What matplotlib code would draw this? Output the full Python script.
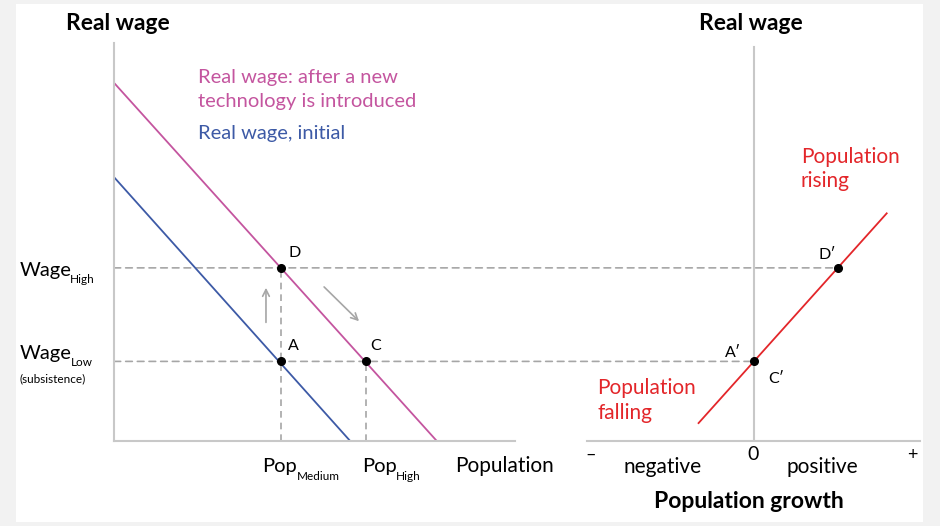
import matplotlib
matplotlib.use("Agg")
import matplotlib.pyplot as plt
from matplotlib.patches import Rectangle, ConnectionPatch

plt.rcParams["font.family"] = ["Lato", "DejaVu Sans"]

# left panel: population vs real wage
wage_low = 20.0
wage_high = 43.5
pop_medium = 41.6
pop_high = 62.8
initial_pop = [0, 58.9]
initial_wage = [66.3, 0]
new_pop = [0, 80.5]
new_wage = [90.0, 0]

# right panel: population growth vs real wage
growth_line = [-0.33, 0.80]
growth_wage = [4.5, 57.2]
growth_a = 0.0
growth_d = 0.505

PINK = "#c4559f"
BLUE = "#3d5aa6"
RED = "#e3262a"
AXIS = "#c8c8c8"
DASH = "#a6a6a6"

W, H = 940, 526


def fx(px):
    return px / W


def fy(py):
    return 1 - py / H


fig = plt.figure(figsize=(9.4, 5.26), dpi=100)
fig.patch.set_facecolor("#f2f2f2")
fig.patches.append(Rectangle((fx(16), fy(522)), fx(923) - fx(16), fy(4) - fy(522),
                             transform=fig.transFigure, facecolor="white",
                             edgecolor="none", zorder=-5))

axl = fig.add_axes([fx(114), fy(441), fx(515) - fx(114), fy(43) - fy(441)])
axr = fig.add_axes([fx(587), fy(441), fx(920) - fx(587), fy(43) - fy(441)])
for ax in (axl, axr):
    ax.set_facecolor("none")
    ax.set_ylim(0, 100)
    ax.set_xticks([])
    ax.set_yticks([])
    for s in ax.spines.values():
        s.set_visible(False)
    ax.spines["bottom"].set_visible(True)
    ax.spines["bottom"].set_color(AXIS)
    ax.spines["bottom"].set_linewidth(1.5)
axl.set_xlim(0, 100)
axl.spines["left"].set_visible(True)
axl.spines["left"].set_color(AXIS)
axl.spines["left"].set_linewidth(1.5)
axr.set_xlim(-1, 1)
axr.axvline(0, ymin=0, ymax=0.99, color=AXIS, lw=1.5)

dash_kw = dict(color=DASH, lw=1.2, linestyle=(0, (4, 3)))

# dashed guides
axl.plot([pop_medium, pop_medium], [0, wage_high], **dash_kw)
axl.plot([pop_high, pop_high], [0, wage_low], **dash_kw)
for w, g in ((wage_high, growth_d), (wage_low, growth_a)):
    con = ConnectionPatch(xyA=(0, w), coordsA=axl.transData,
                          xyB=(g, w), coordsB=axr.transData, zorder=-1, **dash_kw)
    fig.add_artist(con)

# wage lines
axl.plot(initial_pop, initial_wage, color=BLUE, lw=1.3)
axl.plot(new_pop, new_wage, color=PINK, lw=1.3)
axl.plot([pop_medium, pop_medium, pop_high], [wage_high, wage_low, wage_low],
         "o", color="black", ms=5.5, zorder=5)

# growth line
axr.plot(growth_line, growth_wage, color=RED, lw=1.3)
axr.plot([growth_a, growth_d], [wage_low, wage_high], "o", color="black", ms=5.5, zorder=5)

# arrows
arrow_kw = dict(arrowstyle="->", color="#a6a6a6", lw=1.2, mutation_scale=12)
axl.annotate("", xy=(37.9, 39.2), xytext=(37.9, 29.1), arrowprops=arrow_kw)
axl.annotate("", xy=(61.6, 29.6), xytext=(51.9, 39.2), arrowprops=arrow_kw)

# texts
def ftext(px, py, s, **kw):
    kw.setdefault("va", "center")
    kw.setdefault("ha", "left")
    fig.text(fx(px), fy(py), s, **kw)


ftext(66, 23, "Real wage", fontsize=16.5, fontweight="bold")
ftext(751, 23, "Real wage", fontsize=16.5, fontweight="bold", ha="center")
ftext(198, 77, "Real wage: after a new", fontsize=14.5, color=PINK)
ftext(198, 102, "technology is introduced", fontsize=14.5, color=PINK)
ftext(198, 133, "Real wage, initial", fontsize=14.5, color=BLUE)

ftext(288, 253, "D", fontsize=11.5)
ftext(288, 346, "A", fontsize=11.5)
ftext(370, 346, "C", fontsize=11.5)

ftext(20, 276, "Wage", fontsize=14.5, va="baseline")
ftext(70, 283, "High", fontsize=8.5, va="baseline")
ftext(20, 359, "Wage", fontsize=14.5, va="baseline")
ftext(71, 366.5, "Low", fontsize=8.5, va="baseline")
ftext(20, 379, "(subsistence)", fontsize=8.5)

ftext(262, 472, "Pop", fontsize=14.5, va="baseline")
ftext(297, 480, "Medium", fontsize=8.5, va="baseline")
ftext(362, 472, "Pop", fontsize=14.5, va="baseline")
ftext(396, 480, "High", fontsize=8.5, va="baseline")
ftext(455, 472, "Population", fontsize=15, va="baseline")

ftext(801, 157, "Population", fontsize=15, color=RED)
ftext(801, 181, "rising", fontsize=15, color=RED)
ftext(597, 388, "Population", fontsize=15, color=RED)
ftext(597, 413, "falling", fontsize=15, color=RED)

ftext(818, 255, "D\u2032", fontsize=11.5)
ftext(725, 353, "A\u2032", fontsize=11.5)
ftext(768, 379, "C\u2032", fontsize=11.5)

ftext(591, 455, "\u2013", fontsize=13, ha="center")
ftext(753, 454, "0", fontsize=14, ha="center")
ftext(912, 455, "+", fontsize=13, ha="center")
ftext(663, 467, "negative", fontsize=15, ha="center")
ftext(822, 467, "positive", fontsize=15, ha="center")
ftext(749, 501, "Population growth", fontsize=16.5, fontweight="bold", ha="center")

fig.savefig("out.png", dpi=100, facecolor=fig.get_facecolor())
